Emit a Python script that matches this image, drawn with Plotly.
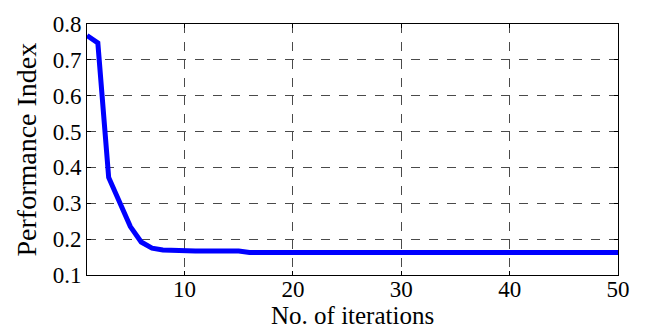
import plotly.graph_objects as go

iterations = list(range(1, 51))
performance = [0.768, 0.747, 0.372, 0.300, 0.235, 0.192, 0.175, 0.170, 0.168, 0.167,
               0.167, 0.167, 0.167, 0.167, 0.167] + [0.163] * 35
x_ticks = [10, 20, 30, 40, 50]
y_ticks = [0.1, 0.2, 0.3, 0.4, 0.5, 0.6, 0.7, 0.8]
x_title = "No. of iterations"
y_title = "Performance Index"

fig = go.Figure()
fig.add_trace(go.Scatter(x=iterations, y=performance, mode="lines",
                         line=dict(color="#0000FF", width=5), showlegend=False))

family = "Liberation Serif, serif"
axis_common = dict(showline=True, linecolor="black", linewidth=1, mirror="ticks",
                   ticks="inside", ticklen=4, tickcolor="black",
                   showgrid=True, gridcolor="#4a4a4a", gridwidth=1, griddash="dash",
                   zeroline=False,
                   tickfont=dict(family=family, size=23, color="black"))

fig.update_layout(
    width=646, height=331,
    margin=dict(l=87, r=28, t=19, b=56),
    paper_bgcolor="white", plot_bgcolor="white",
    font=dict(family=family, size=23, color="black"),
    xaxis=dict(range=[1, 50], tickvals=x_ticks, ticklabelstandoff=-7, **axis_common),
    yaxis=dict(range=[0.1, 0.8], tickvals=y_ticks, tickformat=".1f", **axis_common),
    annotations=[
        dict(text=x_title, xref="paper", yref="paper", x=0.5, y=0, xanchor="center",
             yanchor="bottom", yshift=-55, showarrow=False, borderpad=0,
             font=dict(family=family, size=25, color="black")),
        dict(text=y_title, xref="paper", yref="paper", x=0, y=0.5, xanchor="center",
             yanchor="middle", xshift=-61, textangle=-90, showarrow=False,
             font=dict(family=family, size=28, color="black")),
    ],
)
fig.write_html("out.html", config={"displayModeBar": False},
               post_script="document.body.style.margin='0';document.body.style.overflow='hidden';")
